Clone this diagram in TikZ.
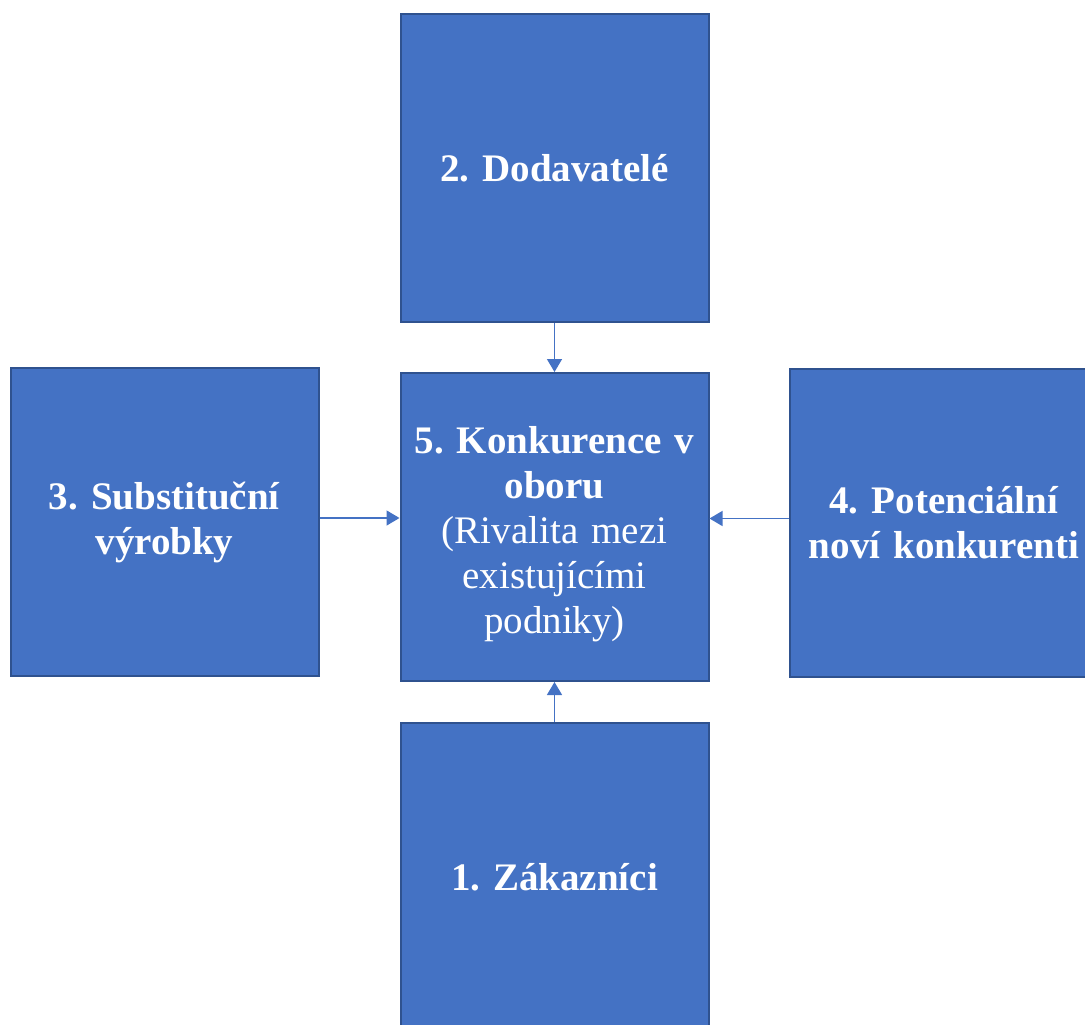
\documentclass[tikz,border=0pt]{standalone}
\usepackage{fontspec}
\setmainfont{Liberation Serif}
\usetikzlibrary{arrows.meta}
\definecolor{boxfill}{HTML}{4472C4}
\definecolor{boxedge}{HTML}{2F528F}
\tikzset{
  force/.style={rectangle, draw=boxedge, fill=boxfill, line width=2pt,
    minimum width=308pt, minimum height=308pt, inner sep=0pt,
    text=white, align=center, text width=300pt,
    font=\frenchspacing\fontsize{39}{45}\selectfont},
  link/.style={draw=boxfill, line width=1.5pt,
    -{Triangle[width=15pt,length=13pt]}}
}
\begin{document}
\begin{tikzpicture}[x=1pt,y=-1pt]
\useasboundingbox (0,0) rectangle (1085,1025);
\clip (0,0) rectangle (1085,1025);
\node[force] (top) at (554.5,168) {\textbf{2. Dodavatelé}};
\node[force] (left) at (164.5,522) {\textbf{3. Substituční}\\\textbf{výrobky}};
\node[force] (center) at (554.5,527) {\rule{0pt}{41pt}\textbf{5. Konkurence v}\\\textbf{oboru}\\(Rivalita mezi\\existujícími\\podniky)};
\node[force] (right) at (944,522.5) {\textbf{4. Potenciální}\\\textbf{noví konkurenti}};
\node[force] (bottom) at (554.5,877) {\textbf{1. Zákazníci}};
\draw[link] (top.south) -- (center.north);
\draw[link] (bottom.north) -- (center.south);
\draw[link] ([yshift=4pt]left.east) -- ([yshift=4pt]left.east -| center.west);
\draw[link] ([yshift=4pt]right.west) -- ([yshift=4pt]right.west -| center.east);
\end{tikzpicture}
\end{document}
